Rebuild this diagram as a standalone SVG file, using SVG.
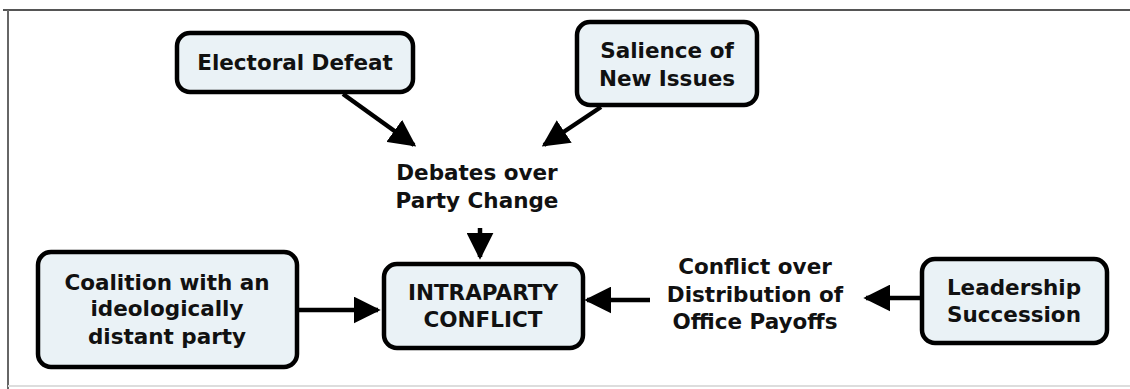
<svg xmlns="http://www.w3.org/2000/svg" width="1130" height="389" viewBox="0 0 1130 389">
<defs>
<style>
.box{fill:#eaf2f6;stroke:#000;stroke-width:4.5}
.t{font-family:"DejaVu Sans",Verdana,sans-serif;font-weight:bold;font-size:21.5px;fill:#111;text-anchor:middle}
.c{stroke:#000;stroke-width:4.5;fill:none}
</style>
<marker id="ah" viewBox="0 0 10 10" refX="9" refY="5" markerWidth="6" markerHeight="6" orient="auto" markerUnits="strokeWidth">
<path d="M0,0 L10,5 L0,10 Z" fill="#000"/>
</marker>
</defs>
<rect width="1130" height="389" fill="#fff"/>
<g id="frame">
<line x1="3" y1="10" x2="1130" y2="10" stroke="#555" stroke-width="2"/>
<line x1="8" y1="10" x2="8" y2="389" stroke="#666" stroke-width="2"/>
<line x1="8" y1="386" x2="1130" y2="386" stroke="#ddd" stroke-width="2"/>
</g>
<g id="connectors">
<line class="c" x1="343" y1="94" x2="414" y2="145" marker-end="url(#ah)"/>
<line class="c" x1="601" y1="107" x2="544" y2="145" marker-end="url(#ah)"/>
<line class="c" x1="480" y1="228" x2="480" y2="257" marker-end="url(#ah)"/>
<line class="c" x1="297" y1="310" x2="378" y2="310" marker-end="url(#ah)"/>
<line class="c" x1="650" y1="300" x2="587" y2="300" marker-end="url(#ah)"/>
<line class="c" x1="922" y1="298" x2="866" y2="298" marker-end="url(#ah)"/>
</g>
<g id="electoral-defeat">
<rect class="box" x="177" y="33" width="236" height="59" rx="13"/>
<text class="t" x="295" y="70">Electoral Defeat</text>
</g>
<g id="salience">
<rect class="box" x="577" y="22" width="180" height="83" rx="13"/>
<text class="t" x="667" y="58">Salience of</text>
<text class="t" x="667" y="86">New Issues</text>
</g>
<g id="debates">
<text class="t" x="477" y="180">Debates over</text>
<text class="t" x="477" y="208">Party Change</text>
</g>
<g id="intraparty">
<rect class="box" x="384" y="264" width="199" height="84" rx="13"/>
<text class="t" x="483" y="300">INTRAPARTY</text>
<text class="t" x="483" y="327">CONFLICT</text>
</g>
<g id="coalition">
<rect class="box" x="38" y="252" width="259" height="115" rx="13"/>
<text class="t" x="167" y="290">Coalition with an</text>
<text class="t" x="167" y="316">ideologically</text>
<text class="t" x="167" y="344">distant party</text>
</g>
<g id="conflict-over">
<text class="t" x="755" y="274">Conflict over</text>
<text class="t" x="755" y="302">Distribution of</text>
<text class="t" x="755" y="329">Office Payoffs</text>
</g>
<g id="leadership">
<rect class="box" x="922" y="259" width="185" height="84" rx="13"/>
<text class="t" x="1014" y="295">Leadership</text>
<text class="t" x="1014" y="322">Succession</text>
</g>
</svg>
